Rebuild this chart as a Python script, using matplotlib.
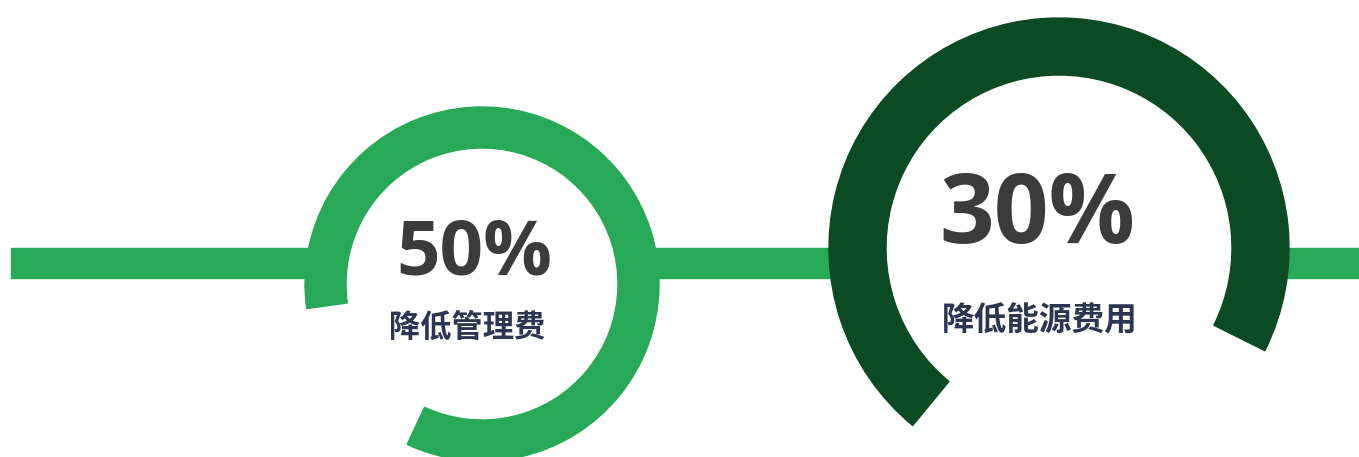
import matplotlib.pyplot as plt
from matplotlib.patches import Wedge, Circle, Rectangle

# Data
percents = [50, 30]
captions = ["降低管理费", "降低能源费用"]

# Layout (pixel units, y measured upward from the bottom)
W, H = 1359, 457
centers = [(482, H - 284), (1059, H - 248)]
radii = [177, 230]
widths = [41, 57]
arc_span = [(-115, 188), (-26.5, 230.5)]
ring_colors = ["#27a957", "#0b4a22"]
pct_pos = [(474, H - 255), (1037, H - 217)]
cap_pos = [(467, H - 328), (1040, H - 321)]
pct_sizes = [55, 69]
cap_sizes = [22.5, 23.5]

fig = plt.figure(figsize=(W / 100, H / 100), dpi=100)
ax = fig.add_axes([0, 0, 1, 1])
ax.set_xlim(0, W)
ax.set_ylim(0, H)
ax.set_aspect("equal")
ax.axis("off")

# Horizontal connector line
ax.add_patch(Rectangle((11, H - 278), W - 11, 30, color="#27a957", zorder=1))

for i in range(len(percents)):
    cx, cy = centers[i]
    # white disc hides the connector inside the ring
    ax.add_patch(Circle((cx, cy), radii[i] - 1, color="white", zorder=2))
    t1, t2 = arc_span[i]
    ax.add_patch(Wedge((cx, cy), radii[i], t1, t2, width=widths[i],
                       color=ring_colors[i], zorder=3))
    ax.text(*pct_pos[i], f"{percents[i]}%", ha="center", va="center",
            fontsize=pct_sizes[i], fontweight="bold", family="Open Sans",
            color="#3b3b3b", zorder=4)
    ax.text(*cap_pos[i], captions[i], ha="center", va="center",
            fontsize=cap_sizes[i], fontweight="bold",
            family=["Noto Sans CJK SC", "DejaVu Sans"],
            color="#2c3650", zorder=4)

fig.savefig("out.png", dpi=100, facecolor="white")
